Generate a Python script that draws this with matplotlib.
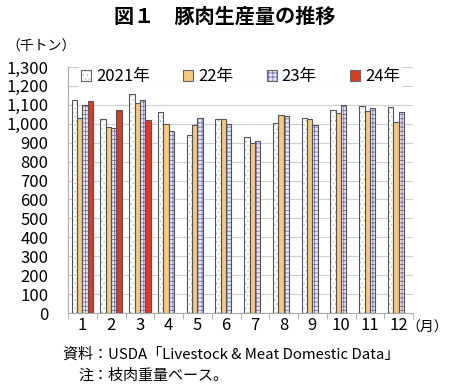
import numpy as np
import matplotlib.pyplot as plt

plt.rcParams['font.family'] = ['Noto Sans CJK JP', 'DejaVu Sans']
plt.rcParams['hatch.linewidth'] = 0.6

months = ['1', '2', '3', '4', '5', '6', '7', '8', '9', '10', '11', '12']
y2021 = [1123, 1026, 1156, 1063, 940, 1023, 932, 1005, 1028, 1075, 1095, 1091]
y2022 = [1032, 984, 1112, 1000, 991, 1023, 896, 1047, 1025, 1059, 1067, 1011]
y2023 = [1100, 979, 1128, 963, 1028, 998, 910, 1042, 993, 1098, 1082, 1061]
y2024 = [1119, 1075, 1021]
labels = ['2021年', '22年', '23年', '24年']

fig = plt.figure(figsize=(4.5, 3.87), dpi=100)
ax = fig.add_axes([68 / 450, 1 - 313 / 387, 345 / 450, 246 / 387])

x = np.arange(len(months))
w = 0.185
series = [
    (y2021, '#ffffff', '#9fd0d0', '....'),
    (y2022, '#f7c97c', '#f7c97c', None),
    (y2023, '#e8e8f6', '#7373c4', '++++'),
    (y2024, '#e03a1e', '#e03a1e', None),
]
handles = []
for i, (vals, fc, hc, hatch) in enumerate(series):
    pos = x[:len(vals)] + (i - 1.5) * w
    ax.bar(pos, vals, w, color=fc, edgecolor=hc, hatch=hatch, linewidth=0, zorder=2)
    ax.bar(pos, vals, w, fill=False, edgecolor='#555555', linewidth=0.8, zorder=3)
    h_fill = plt.Rectangle((0, 0), 1, 1, facecolor=fc, edgecolor=hc, hatch=hatch, linewidth=0)
    h_edge = plt.Rectangle((0, 0), 1, 1, fill=False, edgecolor='#666666', linewidth=0.8)
    handles.append((h_fill, h_edge))

ax.set_ylim(0, 1300)
ax.set_xlim(-0.5, 11.5)
ax.set_yticks(np.arange(0, 1301, 100))
ax.set_yticklabels([f'{v:,}' for v in range(0, 1301, 100)], fontsize=12)
ax.set_xticks(x)
ax.set_xticklabels(months, fontsize=12)
ax.set_xticks(np.arange(-0.5, 12, 1), minor=True)
ax.tick_params(axis='x', which='major', length=0, pad=3)
ax.tick_params(axis='x', which='minor', length=4, color='#aaaaaa')
ax.tick_params(axis='y', length=0, pad=14)
ax.grid(axis='y', color='#d0d0d0', linewidth=0.8, zorder=0)
for s in ['top', 'right']:
    ax.spines[s].set_visible(False)
for s in ['left', 'bottom']:
    ax.spines[s].set_color('#aaaaaa')

leg = ax.legend(handles, labels, loc='center', bbox_to_anchor=(0.5, 1 - 10 / 246), ncol=4,
                frameon=True, fontsize=12, handlelength=0.6, handleheight=0.6,
                handletextpad=0.3, columnspacing=2.0, borderpad=0.1, fancybox=False)
leg.get_frame().set_facecolor('white')
leg.get_frame().set_edgecolor('none')
leg.get_frame().set_alpha(1)

fig.text(0.5, 1 - 16 / 387, '図１　豚肉生産量の推移', ha='center', va='center',
         fontsize=14.5, fontweight='bold')
fig.text(6 / 450, 1 - 47 / 387, '（千トン）', ha='left', va='center', fontsize=10)
fig.text(406 / 450, 1 - 328 / 387, '（月）', ha='left', va='center', fontsize=10)
fig.text(63 / 450, 1 - 355 / 387, '資料：USDA「Livestock & Meat Domestic Data」',
         ha='left', va='center', fontsize=10.8)
fig.text(78 / 450, 1 - 376 / 387, '注：枝肉重量ベース。', ha='left', va='center', fontsize=10.8)

fig.savefig('out.png', dpi=100)
